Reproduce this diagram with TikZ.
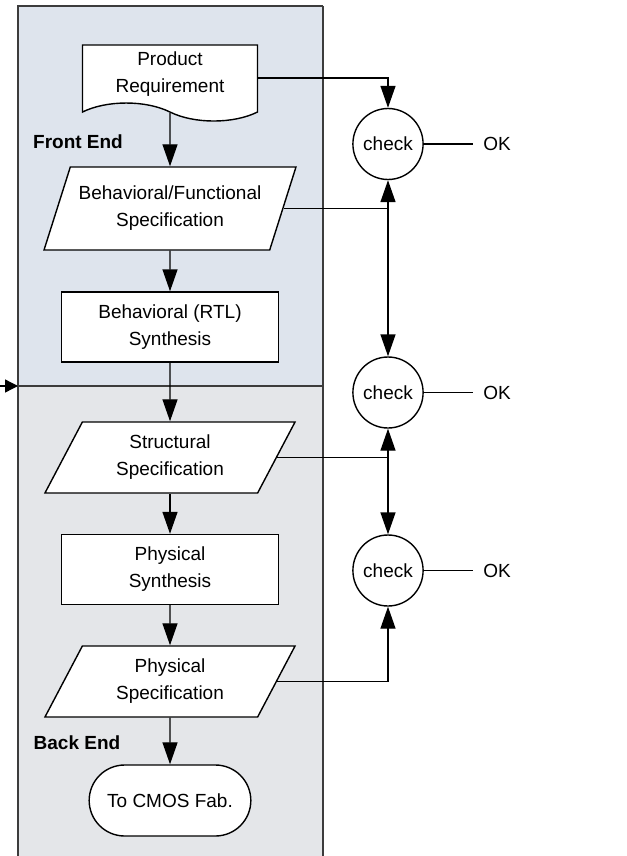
\documentclass[tikz,border=0pt]{standalone}
\usepackage{fontspec}
\setmainfont{Liberation Sans}
\usetikzlibrary{arrows.meta,shapes.geometric,shapes.symbols,shapes.misc}

\definecolor{frontbg}{RGB}{222,228,237}
\definecolor{backbg}{RGB}{228,230,233}
\definecolor{rim}{RGB}{60,60,60}

\begin{document}
\begin{tikzpicture}
        [x=0.5pt,y=-0.5pt,
        font=\fontsize{9.5}{13.5}\selectfont,
        line/.style={line width=0.7pt},
        back/.style={line,{Triangle[length=11pt,width=7.5pt]}-},
        arr/.style={line,-{Triangle[length=11pt,width=7.5pt]}},
        box/.style={draw,fill=white,line width=0.7pt,align=center,
            minimum width=108.5pt,minimum height=35pt},
        para/.style={trapezium,trapezium left angle=66,trapezium right angle=114,
            trapezium stretches=true,draw,fill=white,line width=0.7pt,align=center,
            minimum width=126pt,minimum height=35.5pt},
        doc/.style={tape,tape bend top=none,tape bend bottom=out and in,
            tape bend height=9pt,draw,fill=white,line width=0.7pt,align=center,
            minimum width=87.5pt,minimum height=37pt},
        term/.style={rounded rectangle,draw,fill=white,line width=0.7pt,
            minimum width=87.5pt,minimum height=35.5pt},
        chk/.style={ellipse,draw,fill=white,line width=0.7pt,inner sep=0pt,
            minimum width=32.5pt,minimum height=35.5pt},
        tag/.style={font=\fontsize{9.5}{13.5}\selectfont\bfseries}]
    \useasboundingbox (0,0) rectangle (626,856);
    % the two panels
    \fill[frontbg] (18,6) rectangle (323,386);
    \fill[backbg] (18,386) rectangle (323,856);
    \draw[rim,line width=0.6pt] (323,6) -- (323,856);
    \draw[rim,line width=0.9pt] (18,856) -- (18,6) -- (323,6);
    \draw[rim,line width=0.6pt] (18,386) -- (323,386);
    \node[tag] (front) at (78,142) {Front End};
    \node[tag] (backend) at (77,743) {Back End};
    \coordinate (feed) at (0,386);
    \coordinate (rimin) at (18,386);
    \draw[line,-{Triangle[length=6.5pt,width=6.5pt]}] (feed) -- (rimin);
    % main flow
    \node[doc] (req) at (170,74) {Product\\Requirement};
    \node[para,minimum height=41.5pt] (bfs) at (170,208.5)
        {Behavioral/Functional\\Specification}
        edge[back] (req);
    \node[box] (rtl) at (170,327) {Behavioral (RTL)\\Synthesis}
        edge[back] (bfs);
    \node[para] (ss) at (170,457.5) {Structural\\Specification}
        edge[back] (rtl);
    \node[box] (ps) at (170,569.5) {Physical\\Synthesis}
        edge[back] (ss);
    \node[para] (phs) at (170,681.5) {Physical\\Specification}
        edge[back] (ps);
    \node[term] (fab) at (170,800.5) {To CMOS Fab.}
        edge[back] (phs);
    % checks
    \node[chk] (chk1) at (388,144) {check};
    \node[chk] (chk2) at (388,392.5) {check};
    \node[chk] (chk3) at (388,570.5) {check};
    \node[inner sep=1pt] (ok1) at (497,144) {OK}
        edge[line,shorten <=4pt] (chk1);
    \node[inner sep=1pt] (ok2) at (497,392.5) {OK}
        edge[line,shorten <=4pt] (chk2);
    \node[inner sep=1pt] (ok3) at (497,570.5) {OK}
        edge[line,shorten <=4pt] (chk3);
    \draw[arr] ([yshift=-2pt]req.east) -| (chk1.north);
    \draw[arr] (bfs.east) -| (chk1.south);
    \draw[arr] (bfs.east -| chk1) -- (chk2.north);
    \draw[arr] (ss.east) -| (chk2.south);
    \draw[arr] (ss.east -| chk2) -- (chk3.north);
    \draw[arr] (phs.east) -| (chk3.south);
\end{tikzpicture}
\end{document}
